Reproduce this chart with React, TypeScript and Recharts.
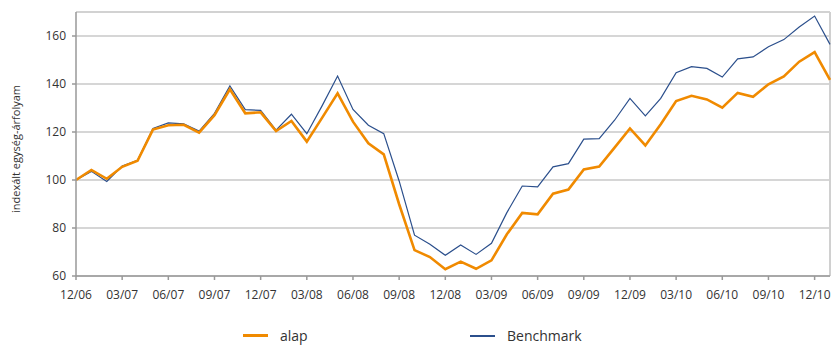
import React from 'react';
import {
  LineChart, Line, XAxis, YAxis, CartesianGrid, Legend, ReferenceLine,
} from 'recharts';

const months = [
  '12/06', '01/07', '02/07', '03/07', '04/07', '05/07', '06/07', '07/07', '08/07', '09/07',
  '10/07', '11/07', '12/07', '01/08', '02/08', '03/08', '04/08', '05/08', '06/08', '07/08',
  '08/08', '09/08', '10/08', '11/08', '12/08', '01/09', '02/09', '03/09', '04/09', '05/09',
  '06/09', '07/09', '08/09', '09/09', '10/09', '11/09', '12/09', '01/10', '02/10', '03/10',
  '04/10', '05/10', '06/10', '07/10', '08/10', '09/10', '10/10', '11/10', '12/10', '01/11',
];

const alap = [
  100, 104.2, 100.5, 105.5, 108, 121, 122.8, 123, 119.7, 127,
  137.8, 127.8, 128.2, 120.4, 124.6, 116, 126, 136.1, 124.3, 115.3,
  110.7, 89.9, 70.8, 67.9, 62.8, 66, 63, 66.5, 77.4, 86.3,
  85.7, 94.3, 96, 104.4, 105.6, 113.5, 121.5, 114.4, 123.2, 132.9,
  135.1, 133.6, 130.1, 136.3, 134.7, 139.9, 143.2, 149.3, 153.3, 141.7,
];

const benchmark = [
  100, 103.6, 99.4, 105.8, 108.2, 121.5, 123.8, 123.4, 120.4, 127.8,
  139.2, 129.3, 129, 120.8, 127.4, 119.3, 131, 143.3, 129.4, 122.8,
  119.3, 99.6, 77, 73.2, 68.6, 72.9, 69, 73.6, 86.4, 97.5,
  97.1, 105.5, 106.8, 117, 117.2, 124.9, 134, 126.7, 134, 144.7,
  147.2, 146.5, 142.9, 150.5, 151.3, 155.5, 158.5, 163.75, 168.3, 156.5,
];

const yTicks = [60, 80, 100, 120, 140, 160];

const data = months.map((m, i) => ({ month: m, alap: alap[i], benchmark: benchmark[i] }));

const FONT = '"Open Sans", sans-serif';
const ORANGE = '#f08a00';
const BLUE = '#2b4f8c';

function LegendBox() {
  const item = (color: string, label: string, width: number) => (
    <div style={{ display: 'flex', alignItems: 'center', width }}>
      <span style={{ display: 'inline-block', width: 25, height: 0, borderTop: `${color === ORANGE ? 3 : 2}px solid ${color}`, marginRight: 12 }} />
      <span>{label}</span>
    </div>
  );
  return (
    <div style={{ display: 'flex', paddingLeft: 243, paddingTop: 16, fontFamily: FONT, fontSize: 14, color: '#333' }}>
      {item(ORANGE, 'alap', 227)}
      {item(BLUE, 'Benchmark', 130)}
    </div>
  );
}

export default function App() {
  return (
    <div style={{ position: 'absolute', left: 0, top: 0, width: 832, height: 354, background: '#fff' }}>
      <LineChart
        width={832}
        height={354}
        data={data}
        margin={{ top: 12, right: 2, bottom: 10, left: 0 }}
        style={{ fontFamily: FONT }}
      >
        <CartesianGrid horizontal vertical={false} stroke="#d6d6d6" strokeWidth={2} />
        <ReferenceLine y={170} stroke="#d0d0d0" strokeWidth={1.5} />
        <ReferenceLine x="01/11" stroke="#d0d0d0" strokeWidth={2} />
        <XAxis
          dataKey="month"
          interval={2}
          stroke="#999"
          strokeWidth={1.5}
          tickSize={4}
          tickMargin={10}
          height={34}
          tick={{ fill: '#333', fontSize: 12 }}
        />
        <YAxis
          domain={[60, 170]}
          ticks={yTicks}
          width={76}
          stroke="#999"
          strokeWidth={1.5}
          tickSize={4}
          tickMargin={6}
          tick={{ fill: '#333', fontSize: 12 }}
          label={{
            content: () => (
              <text x={15} y={149} transform="rotate(-90 15 149)" textAnchor="middle" dominantBaseline="central"
                fill="#333" fontSize={11} fontFamily={FONT}>
                indexált egység-árfolyam
              </text>
            ),
          }}
        />
        <Legend verticalAlign="bottom" height={34} content={() => <LegendBox />} />
        <Line type="linear" dataKey="benchmark" name="Benchmark" stroke={BLUE} strokeWidth={1.2} dot={false} isAnimationActive={false} />
        <Line type="linear" dataKey="alap" name="alap" stroke={ORANGE} strokeWidth={2.6} dot={false} isAnimationActive={false} />
      </LineChart>
    </div>
  );
}
